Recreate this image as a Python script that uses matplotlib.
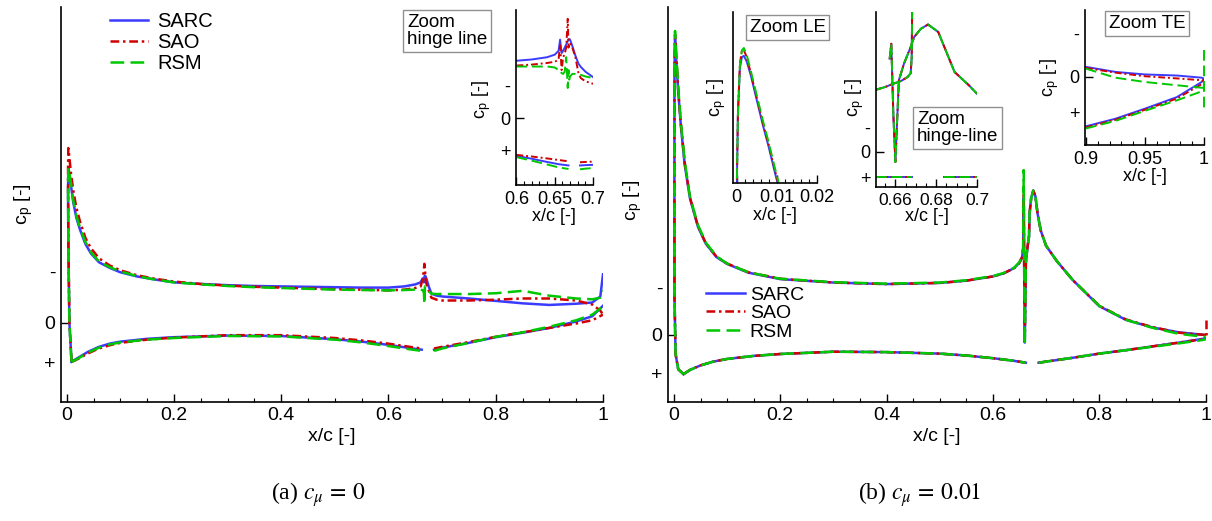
import matplotlib.pyplot as plt
from matplotlib.ticker import MultipleLocator

plt.rcParams['font.family'] = 'Liberation Sans'
plt.rcParams['mathtext.fontset'] = 'stix'

W, H = 1212, 521
models = ['SARC', 'SAO', 'RSM']

# ---------------- (a) c_mu = 0, full chord ----------------
xa_up = [0.009, 0.005, 0.003, 0.0025, 0.003, 0.005, 0.008, 0.012, 0.018, 0.025, 0.035, 0.045,
         0.06, 0.08, 0.1, 0.13, 0.16, 0.2, 0.25, 0.3, 0.35, 0.4, 0.45, 0.5, 0.55, 0.6, 0.63,
         0.65, 0.66, 0.664, 0.666, 0.667, 0.668, 0.67, 0.675, 0.68, 0.69, 0.7, 0.75, 0.8, 0.85,
         0.9, 0.95, 0.98, 0.995, 1.0]
cpa_up_sarc = [0.97, 0.0, -2.0, -3.3, -3.84, -3.7, -3.4, -3.0, -2.6, -2.3, -1.95, -1.72, -1.5,
               -1.36, -1.25, -1.15, -1.08, -1.0, -0.96, -0.93, -0.91, -0.9, -0.89, -0.88, -0.87,
               -0.87, -0.9, -0.95, -1.0, -1.1, -1.0, -1.12, -1.17, -1.12, -0.9, -0.72, -0.67,
               -0.65, -0.6, -0.54, -0.48, -0.44, -0.47, -0.5, -0.65, -1.2]
cpa_up_sao = [0.97, 0.0, -2.2, -3.8, -4.33, -4.1, -3.7, -3.3, -2.85, -2.5, -2.1, -1.85, -1.6,
              -1.42, -1.3, -1.18, -1.1, -1.02, -0.96, -0.92, -0.89, -0.87, -0.85, -0.83, -0.82,
              -0.8, -0.82, -0.86, -0.9, -1.1, -1.3, -1.46, -1.3, -1.0, -0.8, -0.62, -0.57,
              -0.55, -0.55, -0.57, -0.6, -0.6, -0.55, -0.45, -0.3, -0.2]
cpa_up_rsm = [0.97, 0.0, -2.0, -3.3, -3.84, -3.7, -3.45, -3.05, -2.65, -2.35, -2.0, -1.75, -1.52,
              -1.38, -1.27, -1.16, -1.08, -1.0, -0.95, -0.91, -0.88, -0.86, -0.84, -0.82, -0.81,
              -0.8, -0.81, -0.82, -0.83, -0.8, -0.75, -0.46, -0.9, -0.85, -0.78, -0.72, -0.71,
              -0.71, -0.71, -0.73, -0.79, -0.67, -0.6, -0.58, -0.62, -0.8]
xa_lo1 = [0.009, 0.015, 0.025, 0.04, 0.06, 0.08, 0.1, 0.15, 0.2, 0.3, 0.4, 0.5, 0.55, 0.6, 0.64, 0.662]
cpa_lo1_sarc = [0.97, 0.92, 0.84, 0.72, 0.6, 0.52, 0.47, 0.4, 0.36, 0.32, 0.33, 0.41, 0.47, 0.55, 0.63, 0.67]
cpa_lo1_sao = [0.97, 0.94, 0.87, 0.76, 0.64, 0.56, 0.5, 0.42, 0.37, 0.31, 0.31, 0.38, 0.44, 0.52, 0.6, 0.64]
cpa_lo1_rsm = [0.97, 0.93, 0.86, 0.74, 0.62, 0.54, 0.49, 0.42, 0.38, 0.33, 0.34, 0.42, 0.49, 0.58, 0.66, 0.7]
xa_lo2 = [0.685, 0.7, 0.75, 0.8, 0.85, 0.9, 0.95, 0.98, 1.0]
cpa_lo2_sarc = [0.67, 0.62, 0.5, 0.36, 0.25, 0.13, -0.03, -0.16, -0.42]
cpa_lo2_sao = [0.64, 0.6, 0.48, 0.35, 0.24, 0.13, 0.02, -0.06, -0.2]
cpa_lo2_rsm = [0.7, 0.64, 0.5, 0.35, 0.24, 0.1, -0.06, -0.2, -0.4]

# (a) zoom on hinge line
xai_up = [0.6, 0.62, 0.64, 0.65, 0.655, 0.657, 0.659, 0.661, 0.663, 0.665, 0.667, 0.668, 0.669,
          0.67, 0.673, 0.677, 0.681, 0.684, 0.69, 0.7]
cpai_up_sarc = [-1.79, -1.83, -1.9, -1.98, -2.1, -2.45, -2.03, -2.1, -2.2, -2.3, -2.4, -2.45,
                -2.47, -2.45, -2.25, -1.95, -1.7, -1.6, -1.45, -1.28]
cpai_up_sao = [-1.64, -1.67, -1.72, -1.76, -1.82, -2.3, -1.5, -1.9, -2.0, -2.2, -3.1, -2.2,
               -2.3, -2.35, -2.2, -1.9, -1.4, -1.25, -1.15, -1.07]
cpai_up_rsm = [-1.61, -1.61, -1.61, -1.58, -1.5, -1.5, -1.4, -1.38, -1.45, -1.9, -0.94, -1.5,
               -1.2, -1.3, -1.38, -1.38, -1.35, -1.35, -1.3, -1.25]
xai_lo1 = [0.6, 0.62, 0.64, 0.655, 0.668]
cpai_lo1_sarc = [1.18, 1.27, 1.37, 1.44, 1.48]
cpai_lo1_sao = [1.15, 1.2, 1.26, 1.31, 1.35]
cpai_lo1_rsm = [1.22, 1.33, 1.45, 1.54, 1.59]
xai_lo2 = [0.683, 0.69, 0.7]
cpai_lo2_sarc = [1.48, 1.47, 1.46]
cpai_lo2_sao = [1.38, 1.37, 1.36]
cpai_lo2_rsm = [1.6, 1.58, 1.56]

# ---------------- (b) c_mu = 0.01, full chord ----------------
xb_up = [0.018, 0.008, 0.003, 0.001, 0.0008, 0.001, 0.002, 0.004, 0.008, 0.013, 0.02, 0.03,
         0.045, 0.06, 0.08, 0.1, 0.14, 0.2, 0.3, 0.4, 0.5, 0.55, 0.6, 0.62, 0.64, 0.65, 0.655,
         0.657, 0.658, 0.659, 0.66, 0.662, 0.665, 0.668, 0.669, 0.672, 0.676, 0.68, 0.684,
         0.69, 0.7, 0.72, 0.75, 0.8, 0.85, 0.9, 0.95, 1.0]
cpb_up_sarc = [1.03, 0.9, 0.5, -1.0, -4.0, -7.0, -7.8, -7.3, -6.4, -5.5, -4.5, -3.6, -2.85,
               -2.4, -2.05, -1.87, -1.64, -1.47, -1.38, -1.34, -1.37, -1.43, -1.54, -1.62,
               -1.76, -1.9, -2.05, -2.3, -3.6, -1.5, 0.2, -1.9, -2.3, -2.6, -3.2, -3.6, -3.8,
               -3.65, -3.2, -2.75, -2.35, -1.95, -1.45, -0.76, -0.4, -0.2, -0.07, 0.0]
cpb_up_sao = [1.03, 0.9, 0.5, -1.0, -4.0, -7.1, -7.9, -7.4, -6.45, -5.55, -4.55, -3.62, -2.87,
              -2.41, -2.06, -1.88, -1.65, -1.48, -1.38, -1.34, -1.37, -1.43, -1.54, -1.62,
              -1.76, -1.9, -2.05, -2.3, -3.9, -1.5, 0.1, -1.9, -2.3, -2.6, -3.2, -3.6, -3.8,
              -3.65, -3.2, -2.75, -2.35, -1.95, -1.45, -0.77, -0.41, -0.21, -0.06, 0.0]
cpb_up_rsm = [1.03, 0.9, 0.5, -1.0, -4.0, -7.2, -8.0, -7.5, -6.5, -5.6, -4.6, -3.65, -2.9,
              -2.43, -2.07, -1.88, -1.65, -1.48, -1.39, -1.35, -1.38, -1.44, -1.55, -1.63,
              -1.77, -1.92, -2.07, -2.3, -4.34, -1.5, 0.26, -1.9, -2.3, -2.6, -3.2, -3.6, -3.8,
              -3.65, -3.2, -2.75, -2.35, -1.95, -1.45, -0.77, -0.4, -0.19, -0.03, 0.05]
xb_lo1 = [0.018, 0.03, 0.05, 0.074, 0.1, 0.15, 0.2, 0.3, 0.4, 0.5, 0.55, 0.6, 0.64, 0.662]
cpb_lo1_sarc = [1.03, 0.92, 0.8, 0.7, 0.63, 0.55, 0.5, 0.44, 0.45, 0.49, 0.54, 0.61, 0.68, 0.73]
cpb_lo1_sao = [1.03, 0.92, 0.8, 0.7, 0.63, 0.55, 0.5, 0.44, 0.45, 0.49, 0.54, 0.61, 0.68, 0.73]
cpb_lo1_rsm = [1.03, 0.92, 0.8, 0.7, 0.63, 0.55, 0.5, 0.44, 0.45, 0.49, 0.54, 0.61, 0.68, 0.73]
xb_lo2 = [0.686, 0.7, 0.75, 0.8, 0.85, 0.9, 0.95, 1.0]
cpb_lo2_sarc = [0.73, 0.7, 0.6, 0.49, 0.4, 0.3, 0.2, 0.09]
cpb_lo2_sao = [0.73, 0.7, 0.6, 0.49, 0.4, 0.3, 0.2, 0.1]
cpb_lo2_rsm = [0.73, 0.7, 0.6, 0.49, 0.4, 0.31, 0.22, 0.12]
x_b_te_spike = [1.0, 1.0]
cp_b_te_spike = [-0.4, 0.05]

# (b) zoom on leading edge
x_le = [0.0, 0.0003, 0.0008, 0.0013, 0.0018, 0.0025, 0.0035, 0.005, 0.0065, 0.008, 0.0095, 0.0105]
cp_le_sarc = [-1.5, -5.0, -7.1, -7.6, -7.65, -7.4, -6.8, -5.7, -4.6, -3.6, -2.5, -1.8]
cp_le_sao = [-1.5, -5.1, -7.3, -7.9, -7.9, -7.6, -6.9, -5.8, -4.7, -3.7, -2.6, -1.9]
cp_le_rsm = [-1.5, -5.0, -7.2, -7.9, -8.0, -7.7, -7.0, -5.9, -4.8, -3.8, -2.7, -2.0]

# (b) zoom on hinge line (the three models coincide here)
x_hg_wing = [0.6505, 0.655, 0.659, 0.663, 0.666, 0.6675, 0.668, 0.6683]
cp_hg_wing = [-2.49, -2.6, -2.73, -2.85, -3.0, -3.15, -3.8, -6.5]
x_hg_flap = [0.6572, 0.658, 0.659, 0.66, 0.6617, 0.6642, 0.6675, 0.6692, 0.6725, 0.676, 0.681,
             0.686, 0.689, 0.696, 0.7]
cp_hg_flap = [-3.73, -4.33, -1.5, 0.4, -2.87, -3.53, -4.2, -4.6, -4.93, -5.1, -4.8, -3.8, -3.2,
              -2.67, -2.33]
x_hg_lo1 = [0.6505, 0.6683]
cp_hg_lo1 = [1.0, 1.0]
x_hg_lo2 = [0.6838, 0.7]
cp_hg_lo2 = [1.0, 1.0]

# (b) zoom on trailing edge
x_te = [0.9, 0.925, 0.95, 0.977, 0.998, 1.0]
cp_te_up_sarc = [-0.28, -0.14, -0.07, -0.04, 0.02, 0.05]
cp_te_up_sao = [-0.25, -0.12, -0.02, 0.04, 0.09, 0.1]
cp_te_up_rsm = [-0.23, 0.02, 0.14, 0.23, 0.3, 0.3]
cp_te_lo_sarc = [1.37, 1.16, 0.88, 0.56, 0.14, 0.05]
cp_te_lo_sao = [1.4, 1.19, 0.91, 0.6, 0.2, 0.1]
cp_te_lo_rsm = [1.43, 1.22, 0.94, 0.65, 0.4, 0.3]
x_te_spike = [1.0, 1.0]
cp_te_spike = [-0.74, 0.93]

colors = {'SARC': '#3b3bff', 'SAO': '#d00000', 'RSM': '#00c800'}
styles = {'SARC': '-', 'SAO': (0, (3.5, 1.5, 1, 1.5)), 'RSM': (0, (5.5, 2.5))}

fig = plt.figure(figsize=(W / 100, H / 100), dpi=100)


def add_ax(l, t, r, b, size=13):
    ax = fig.add_axes([l / W, 1 - b / H, (r - l) / W, (b - t) / H])
    ax.patch.set_alpha(0)
    ax.spines[['top', 'right']].set_visible(False)
    ax.spines[['left', 'bottom']].set_linewidth(1.2)
    ax.tick_params(direction='in', labelsize=size, length=6, width=1, pad=4)
    ax.tick_params(which='minor', direction='in', length=3, width=0.8)
    ax.tick_params(axis='y', which='minor', left=False)
    return ax


def cp_ticks(ax, ym, yp):
    ax.set_yticks([ym, 0, yp], ['-', '0', '+'])
    for tk, v in zip(ax.yaxis.get_major_ticks(), [ym, 0, yp]):
        if v != 0:
            tk.tick1line.set_visible(False)


def labels(ax, xl, yl, size=13):
    ax.set_xlabel('x/c [-]', fontsize=size)
    ax.xaxis.set_label_coords(*xl)
    ax.xaxis.label.set_va('center')
    ax.set_ylabel(r'c$_\mathregular{p}$ [-]', fontsize=size)
    ax.yaxis.set_label_coords(*yl)
    ax.yaxis.label.set_va('center')


def curve(ax, x, cp, m, lw=1.8):
    return ax.plot(x, cp, color=colors[m], linestyle=styles[m], lw=lw, label=m)[0]


box = dict(boxstyle='square,pad=0.2', fc='white', ec='#909090', lw=1)

# ---- panel (a) ----
axa = add_ax(60.7, 7, 603, 401.7, 14)
up = dict(SARC=cpa_up_sarc, SAO=cpa_up_sao, RSM=cpa_up_rsm)
lo1 = dict(SARC=cpa_lo1_sarc, SAO=cpa_lo1_sao, RSM=cpa_lo1_rsm)
lo2 = dict(SARC=cpa_lo2_sarc, SAO=cpa_lo2_sao, RSM=cpa_lo2_rsm)
handles = []
for m in models:
    handles.append(curve(axa, xa_up, up[m], m))
    curve(axa, xa_lo1, lo1[m], m)
    curve(axa, xa_lo2, lo2[m], m)
axa.set_xlim(-0.0112, 1.0)
axa.set_ylim(1.96, -7.83)
axa.set_xticks([0, 0.2, 0.4, 0.6, 0.8, 1.0], ['0', '0.2', '0.4', '0.6', '0.8', '1'])
axa.xaxis.set_minor_locator(MultipleLocator(0.05))
cp_ticks(axa, -1.28, 1.0)
labels(axa, (0.5, -0.087), (-0.068, 0.5), 14)
axa.legend(handles=handles, loc='upper left', bbox_to_anchor=(110 / W, 1 - 12 / H),
           bbox_transform=fig.transFigure, frameon=False, fontsize=14.5, borderpad=0,
           borderaxespad=0, handlelength=1.9, handletextpad=0.45, labelspacing=0.1)

axai = add_ax(515.7, 10, 593, 185)
up = dict(SARC=cpai_up_sarc, SAO=cpai_up_sao, RSM=cpai_up_rsm)
lo1 = dict(SARC=cpai_lo1_sarc, SAO=cpai_lo1_sao, RSM=cpai_lo1_rsm)
lo2 = dict(SARC=cpai_lo2_sarc, SAO=cpai_lo2_sao, RSM=cpai_lo2_rsm)
for m in models:
    curve(axai, xai_up, up[m], m, 1.4)
    curve(axai, xai_lo1, lo1[m], m, 1.4)
    curve(axai, xai_lo2, lo2[m], m, 1.4)
axai.set_xlim(0.599, 0.7)
axai.set_ylim(2.09, -3.375)
axai.set_xticks([0.6, 0.65, 0.7], ['0.6', '0.65', '0.7'])
axai.xaxis.set_minor_locator(MultipleLocator(0.01))
cp_ticks(axai, -1.03, 1.0)
labels(axai, (0.5, -0.18), (-0.44, 0.49))
fig.text(407 / W, 1 - 14 / H, 'Zoom\nhinge line', fontsize=13.5, ha='left', va='top',
         linespacing=1.0, bbox=box)

# ---- panel (b) ----
axb = add_ax(667.7, 7, 1205.5, 401.7, 14)
up = dict(SARC=cpb_up_sarc, SAO=cpb_up_sao, RSM=cpb_up_rsm)
lo1 = dict(SARC=cpb_lo1_sarc, SAO=cpb_lo1_sao, RSM=cpb_lo1_rsm)
lo2 = dict(SARC=cpb_lo2_sarc, SAO=cpb_lo2_sao, RSM=cpb_lo2_rsm)
handles = []
for m in models:
    handles.append(curve(axb, xb_up, up[m], m))
    curve(axb, xb_lo1, lo1[m], m)
    curve(axb, xb_lo2, lo2[m], m)
curve(axb, x_b_te_spike, cp_b_te_spike, 'SAO').set_clip_on(False)
axb.set_xlim(-0.0118, 1.0)
axb.set_ylim(1.755, -8.63)
axb.set_xticks([0, 0.2, 0.4, 0.6, 0.8, 1.0], ['0', '0.2', '0.4', '0.6', '0.8', '1'])
axb.xaxis.set_minor_locator(MultipleLocator(0.05))
cp_ticks(axb, -1.26, 1.0)
labels(axb, (0.5, -0.087), (-0.066, 0.51), 14)
axb.legend(handles=handles, loc='upper left', bbox_to_anchor=(706 / W, 1 - 286 / H),
           bbox_transform=fig.transFigure, frameon=False, fontsize=14, borderpad=0,
           borderaxespad=0, handlelength=2.0, handletextpad=0.25, labelspacing=0.05)

axle = add_ax(732.7, 12, 816.7, 183)
le = dict(SARC=cp_le_sarc, SAO=cp_le_sao, RSM=cp_le_rsm)
for m in models:
    curve(axle, x_le, le[m], m, 1.4)
axle.set_xlim(-0.001, 0.02)
axle.set_ylim(-2.0, -9.6)
axle.set_xticks([0, 0.01, 0.02], ['0', '0.01', '0.02'])
axle.xaxis.set_minor_locator(MultipleLocator(0.002))
axle.set_yticks([])
labels(axle, (0.5, -0.19), (-0.19, 0.5))
fig.text(787.5 / W, 1 - 27.5 / H, 'Zoom LE', fontsize=13.5, ha='center', va='center', bbox=box)

axhg = add_ax(876, 12, 977, 187)
for m in models:
    curve(axhg, x_hg_wing, cp_hg_wing, m, 1.4)
    curve(axhg, x_hg_flap, cp_hg_flap, m, 1.4)
    curve(axhg, x_hg_lo1, cp_hg_lo1, m, 1.4)
    curve(axhg, x_hg_lo2, cp_hg_lo2, m, 1.4)
axhg.set_xlim(0.6505, 0.7)
axhg.set_ylim(1.4, -5.6)
axhg.set_xticks([0.66, 0.68, 0.7], ['0.66', '0.68', '0.7'])
axhg.xaxis.set_minor_locator(MultipleLocator(0.005))
axhg.tick_params(axis='x', labelsize=12.5)
cp_ticks(axhg, -1.0, 1.0)
labels(axhg, (0.5, -0.17), (-0.21, 0.51))
fig.text(917 / W, 1 - 128 / H, 'Zoom\nhinge-line', fontsize=13.5, ha='left', va='center',
         linespacing=1.0, bbox=box)

axte = add_ax(1085, 10, 1204, 145)
te_up = dict(SARC=cp_te_up_sarc, SAO=cp_te_up_sao, RSM=cp_te_up_rsm)
te_lo = dict(SARC=cp_te_lo_sarc, SAO=cp_te_lo_sao, RSM=cp_te_lo_rsm)
for m in models:
    curve(axte, x_te, te_up[m], m, 1.4)
    curve(axte, x_te, te_lo[m], m, 1.4)
curve(axte, x_te_spike, cp_te_spike, 'RSM', 1.4).set_clip_on(False)
axte.set_xlim(0.8992, 1.0)
axte.set_ylim(1.89, -1.86)
axte.set_xticks([0.9, 0.95, 1.0], ['0.9', '0.95', '1'])
axte.xaxis.set_minor_locator(MultipleLocator(0.01))
cp_ticks(axte, -1.22, 1.0)
labels(axte, (0.5, -0.23), (-0.30, 0.5))
fig.text(1147 / W, 1 - 23.5 / H, 'Zoom TE', fontsize=13.5, ha='center', va='center', bbox=box)

# captions
fig.text(318 / W, 1 - 495 / H, r'(a) $c_\mu\,=\,0$', fontsize=17, family='Liberation Serif',
         ha='center', va='center')
fig.text(920 / W, 1 - 495 / H, r'(b) $c_\mu\,=\,0.01$', fontsize=17, family='Liberation Serif',
         ha='center', va='center')

fig.savefig('out.png', dpi=100)
